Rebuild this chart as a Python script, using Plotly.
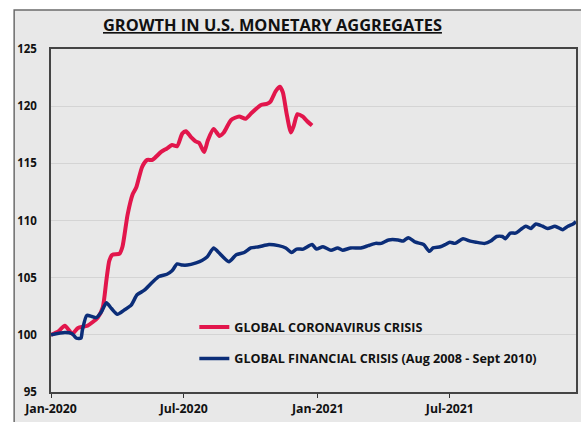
import plotly.graph_objects as go

# ---- data ----
covid_dates = [
    "2020-01-01", "2020-01-11", "2020-01-20", "2020-01-30", "2020-02-07", "2020-02-20",
    "2020-03-05", "2020-03-12", "2020-03-17", "2020-03-21", "2020-03-25", "2020-04-04",
    "2020-04-08", "2020-04-15", "2020-04-22", "2020-04-27", "2020-05-05", "2020-05-12",
    "2020-05-19", "2020-05-31", "2020-06-08", "2020-06-15", "2020-06-22", "2020-06-29",
    "2020-07-04", "2020-07-11", "2020-07-18", "2020-07-22", "2020-07-29", "2020-08-03",
    "2020-08-11", "2020-08-19", "2020-08-25", "2020-09-04", "2020-09-15", "2020-09-24",
    "2020-10-02", "2020-10-15", "2020-10-23", "2020-10-28", "2020-11-04", "2020-11-10",
    "2020-11-14", "2020-11-19", "2020-11-25", "2020-11-29", "2020-12-04", "2020-12-11",
    "2020-12-17", "2020-12-24",
]
covid_values = [
    100.0, 100.3, 100.8, 100.1, 100.6, 100.8,
    101.5, 102.4, 104.8, 106.5, 107.0, 107.1,
    107.7, 110.5, 112.3, 112.9, 114.7, 115.3,
    115.3, 116.0, 116.3, 116.6, 116.5, 117.6,
    117.8, 117.3, 116.9, 116.8, 116.0, 117.0,
    118.0, 117.4, 117.7, 118.8, 119.1, 118.9,
    119.4, 120.1, 120.2, 120.4, 121.3, 121.7,
    121.2, 119.4, 117.7, 118.3, 119.3, 119.1,
    118.7, 118.3,
]

gfc_dates = [
    "2020-01-01", "2020-01-20", "2020-01-30", "2020-02-05", "2020-02-11", "2020-02-13",
    "2020-02-19", "2020-02-26", "2020-03-03", "2020-03-10", "2020-03-17", "2020-03-24",
    "2020-04-01", "2020-04-11", "2020-04-20", "2020-04-28", "2020-05-08", "2020-05-19",
    "2020-05-28", "2020-06-08", "2020-06-15", "2020-06-22", "2020-06-29", "2020-07-06",
    "2020-07-18", "2020-07-26", "2020-08-02", "2020-08-11", "2020-08-18", "2020-09-01",
    "2020-09-11", "2020-09-22", "2020-10-01", "2020-10-12", "2020-10-26", "2020-11-08",
    "2020-11-18", "2020-11-26", "2020-12-03", "2020-12-12", "2020-12-24", "2020-12-30",
    "2021-01-08", "2021-01-19", "2021-01-28", "2021-02-04", "2021-02-15", "2021-03-01",
    "2021-03-11", "2021-03-21", "2021-03-29", "2021-04-08", "2021-04-21", "2021-04-28",
    "2021-05-05", "2021-05-15", "2021-05-26", "2021-06-03", "2021-06-08", "2021-06-18",
    "2021-06-25", "2021-07-01", "2021-07-08", "2021-07-19", "2021-07-29", "2021-08-06",
    "2021-08-18", "2021-08-26", "2021-09-03", "2021-09-11", "2021-09-15", "2021-09-22",
    "2021-09-29", "2021-10-06", "2021-10-13", "2021-10-20", "2021-10-27", "2021-11-05",
    "2021-11-12", "2021-11-22", "2021-11-26", "2021-12-03", "2021-12-10", "2021-12-17",
    "2021-12-21",
]
gfc_values = [
    100.0, 100.2, 100.1, 99.7, 99.7, 100.4,
    101.7, 101.6, 101.5, 102.0, 102.8, 102.3,
    101.8, 102.2, 102.6, 103.5, 103.9, 104.6,
    105.1, 105.3, 105.6, 106.2, 106.1, 106.1,
    106.3, 106.5, 106.8, 107.6, 107.2, 106.4,
    107.0, 107.2, 107.6, 107.7, 107.9, 107.8,
    107.6, 107.2, 107.5, 107.5, 107.9, 107.5,
    107.7, 107.4, 107.6, 107.4, 107.6, 107.6,
    107.8, 108.0, 108.0, 108.3, 108.3, 108.2,
    108.5, 108.1, 107.9, 107.3, 107.6, 107.7,
    107.9, 108.1, 108.0, 108.4, 108.2, 108.1,
    108.0, 108.2, 108.6, 108.6, 108.4, 108.9,
    108.9, 109.2, 109.5, 109.3, 109.7, 109.5,
    109.3, 109.5, 109.4, 109.2, 109.5, 109.7,
    109.9,
]

y_ticks = [95, 100, 105, 110, 115, 120, 125]
x_range = ["2020-01-01", "2021-12-21"]

title_text = "GROWTH IN U.S. MONETARY AGGREGATES"
covid_name = "GLOBAL CORONAVIRUS CRISIS"
gfc_name = "GLOBAL FINANCIAL CRISIS (Aug 2008 - Sept 2010)"

RED = "#e2164c"
NAVY = "#0b2d78"
BG = "#e8e8e8"
FONT = "Open Sans"

fig = go.Figure()
fig.add_trace(go.Scatter(
    x=covid_dates, y=covid_values, mode="lines", name=covid_name,
    line=dict(color=RED, width=4, shape="spline", smoothing=0.6),
    legendgroup="a",
))
fig.add_trace(go.Scatter(
    x=gfc_dates, y=gfc_values, mode="lines", name=gfc_name,
    line=dict(color=NAVY, width=3.5, shape="spline", smoothing=0.6),
    legendgroup="b",
))

# outer panel frame
fig.add_shape(type="rect", xref="paper", yref="paper",
              x0=-0.0702, x1=1.05, y0=-0.2, y1=1.1137,
              fillcolor=BG, line=dict(color="#6b6b6b", width=1.5), layer="below")

fig.add_annotation(
    text="<b><u>" + title_text + "</u></b>", xref="paper", yref="paper",
    x=0.421, y=1.071, showarrow=False, xanchor="center", yanchor="middle",
    font=dict(family=FONT, size=16.4, color="#111111"),
)

fig.update_layout(
    width=581, height=422,
    margin=dict(l=51, r=3, t=49, b=30),
    paper_bgcolor="white", plot_bgcolor=BG,
    font=dict(family=FONT, size=11, color="#111111"),
    showlegend=True,
    legend=dict(
        x=0.273, y=0.232, xanchor="left", yanchor="top",
        bgcolor="rgba(0,0,0,0)",
        font=dict(family=FONT, size=12.6, color="#111111", weight="bold"),
        tracegroupgap=12, traceorder="grouped",
    ),
    xaxis=dict(
        type="date", range=x_range, dtick="M6", tick0="2020-01-01",
        tickformat="%b-%Y", ticks="outside", ticklen=4, tickcolor="#333333",
        showgrid=False, showline=True, linecolor="#444444", linewidth=1.5, mirror=True,
        tickfont=dict(family=FONT, size=12.3, color="#111111", weight="bold"),
        zeroline=False,
    ),
    yaxis=dict(
        range=[95, 125], tickvals=y_ticks, ticks="", showgrid=True,
        gridcolor="#d4d4d4", gridwidth=1, showline=True, linecolor="#444444",
        linewidth=1.5, mirror=True, zeroline=False, ticklabelstandoff=10,
        tickfont=dict(family=FONT, size=11.5, color="#111111", weight="bold"),
    ),
)

fig.write_html("out.html")
